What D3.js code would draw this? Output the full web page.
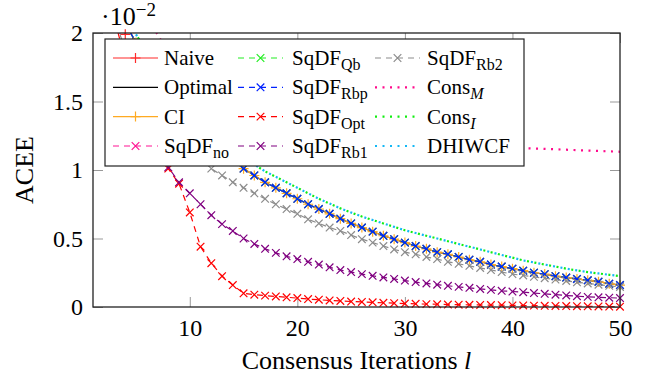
<!DOCTYPE html>
<html>
<head>
<meta charset="utf-8">
<script src="https://cdn.jsdelivr.net/npm/d3@7/dist/d3.min.js"></script>
<style>
body { margin: 0; background: #fff; }
svg { display: block; font-family: "Liberation Serif", "Times New Roman", serif; }
</style>
</head>
<body>
<svg id="chart" width="652" height="383"></svg>
<script>
// consensus iterations l = 1..50
var iters = d3.range(1, 51);

var xTicks = [10, 20, 30, 40, 50];
var yTicks = [0, 0.5, 1, 1.5, 2];
var yTickLabels = ["0", "0.5", "1", "1.5", "2"];

// values in units of 1e-2 (above 2 = off the plot)
var naive = [3.0, 2.5, 2.2, 1.99, 2.25, 2.6, 3.0, 3.4];

var optimal = [2.4, 2.28, 2.18, 2.07, 1.93, 1.8, 1.68, 1.57, 1.47, 1.37,
	1.28, 1.2, 1.13, 1.07, 1.01, 0.96, 0.91, 0.87, 0.83, 0.79,
	0.75, 0.715, 0.68, 0.645, 0.61, 0.58, 0.55, 0.52, 0.495, 0.47,
	0.445, 0.425, 0.40, 0.385, 0.365, 0.345, 0.33, 0.31, 0.295, 0.28,
	0.265, 0.25, 0.24, 0.225, 0.215, 0.205, 0.195, 0.185, 0.17, 0.16];

var ci = [2.4, 2.28, 2.18, 2.07, 1.93, 1.8, 1.68, 1.57, 1.47, 1.37,
	1.28, 1.2, 1.13, 1.07, 1.01, 0.96, 0.91, 0.87, 0.83, 0.79,
	0.75, 0.715, 0.68, 0.645, 0.61, 0.58, 0.55, 0.52, 0.495, 0.47,
	0.445, 0.425, 0.40, 0.385, 0.365, 0.345, 0.33, 0.31, 0.295, 0.28,
	0.265, 0.25, 0.24, 0.225, 0.215, 0.205, 0.195, 0.185, 0.17, 0.16];

var sqdfNo = [2.4, 2.28, 2.18, 2.07, 1.93, 1.8, 1.68, 1.57, 1.47, 1.37,
	1.28, 1.2, 1.13, 1.07, 1.01, 0.96, 0.91, 0.87, 0.83, 0.79,
	0.75, 0.715, 0.68, 0.645, 0.61, 0.58, 0.55, 0.52, 0.495, 0.47,
	0.445, 0.425, 0.40, 0.385, 0.365, 0.345, 0.33, 0.31, 0.295, 0.28,
	0.265, 0.25, 0.24, 0.225, 0.215, 0.205, 0.195, 0.185, 0.17, 0.16];

var sqdfQb = [2.4, 2.28, 2.18, 2.07, 1.93, 1.8, 1.68, 1.57, 1.47, 1.37,
	1.28, 1.2, 1.13, 1.07, 1.01, 0.96, 0.91, 0.87, 0.83, 0.79,
	0.75, 0.715, 0.68, 0.645, 0.61, 0.58, 0.55, 0.52, 0.495, 0.47,
	0.445, 0.425, 0.40, 0.385, 0.365, 0.345, 0.33, 0.31, 0.295, 0.28,
	0.265, 0.25, 0.24, 0.225, 0.215, 0.205, 0.195, 0.185, 0.17, 0.16];

var sqdfRbp = [2.4, 2.28, 2.18, 2.07, 1.93, 1.8, 1.68, 1.57, 1.47, 1.37,
	1.28, 1.2, 1.13, 1.07, 1.01, 0.96, 0.91, 0.87, 0.83, 0.79,
	0.75, 0.715, 0.68, 0.645, 0.61, 0.58, 0.55, 0.52, 0.495, 0.47,
	0.445, 0.425, 0.40, 0.385, 0.365, 0.345, 0.33, 0.31, 0.295, 0.28,
	0.265, 0.25, 0.24, 0.225, 0.215, 0.205, 0.195, 0.185, 0.17, 0.16];

var sqdfOpt = [2.7, 2.4, 2.1, 1.8, 1.52, 1.32, 1.15, 1.01, 0.9, 0.69,
	0.44, 0.32, 0.225, 0.16, 0.10, 0.09, 0.083, 0.077, 0.071, 0.065,
	0.058, 0.053, 0.048, 0.044, 0.04, 0.037, 0.034, 0.031, 0.028, 0.025,
	0.023, 0.021, 0.02, 0.018, 0.017, 0.016, 0.015, 0.014, 0.013, 0.012,
	0.011, 0.01, 0.009, 0.008, 0.007, 0.006, 0.005, 0.004, 0.003, 0.002];

var sqdfRb1 = [2.9, 2.5, 2.15, 1.85, 1.6, 1.39, 1.2, 1.02, 0.91, 0.83,
	0.75, 0.67, 0.605, 0.555, 0.50, 0.46, 0.425, 0.395, 0.37, 0.35,
	0.33, 0.31, 0.29, 0.27, 0.255, 0.24, 0.228, 0.216, 0.205, 0.193,
	0.182, 0.172, 0.163, 0.155, 0.147, 0.14, 0.132, 0.125, 0.118, 0.113,
	0.108, 0.102, 0.096, 0.09, 0.084, 0.079, 0.074, 0.071, 0.068, 0.065];

var sqdfRb2 = [2.6, 2.35, 2.1, 1.88, 1.73, 1.6, 1.48, 1.37, 1.27, 1.18,
	1.09, 1.01, 0.96, 0.91, 0.87, 0.83, 0.79, 0.75, 0.715, 0.68,
	0.64, 0.61, 0.58, 0.555, 0.525, 0.495, 0.47, 0.445, 0.42, 0.40,
	0.385, 0.365, 0.35, 0.33, 0.315, 0.30, 0.285, 0.27, 0.255, 0.24,
	0.23, 0.22, 0.21, 0.2, 0.19, 0.18, 0.172, 0.163, 0.155, 0.146];

var consM = [3.4, 3.0, 2.7, 2.45, 2.27, 2.12, 1.99, 1.85, 1.74, 1.65,
	1.58, 1.52, 1.47, 1.43, 1.39, 1.36, 1.33, 1.31, 1.29, 1.27,
	1.26, 1.25, 1.24, 1.23, 1.22, 1.215, 1.21, 1.205, 1.2, 1.195,
	1.19, 1.187, 1.184, 1.181, 1.178, 1.175, 1.172, 1.169, 1.166, 1.163,
	1.16, 1.157, 1.154, 1.151, 1.148, 1.145, 1.142, 1.139, 1.136, 1.133];

var consI = [2.6, 2.44, 2.28, 2.13, 1.99, 1.86, 1.74, 1.63, 1.53, 1.44,
	1.36, 1.28, 1.21, 1.15, 1.09, 1.04, 0.99, 0.95, 0.91, 0.87,
	0.83, 0.79, 0.755, 0.72, 0.69, 0.66, 0.635, 0.61, 0.585, 0.56,
	0.54, 0.52, 0.50, 0.48, 0.46, 0.44, 0.42, 0.40, 0.38, 0.36,
	0.34, 0.325, 0.31, 0.295, 0.28, 0.267, 0.255, 0.245, 0.235, 0.226];

var dhiwcf = [2.6, 2.44, 2.28, 2.13, 1.99, 1.86, 1.74, 1.63, 1.53, 1.44,
	1.36, 1.28, 1.21, 1.15, 1.09, 1.04, 0.99, 0.95, 0.91, 0.87,
	0.83, 0.79, 0.755, 0.72, 0.69, 0.66, 0.635, 0.61, 0.585, 0.56,
	0.54, 0.52, 0.50, 0.48, 0.46, 0.44, 0.42, 0.40, 0.38, 0.36,
	0.34, 0.325, 0.31, 0.295, 0.28, 0.267, 0.255, 0.245, 0.235, 0.226];

// drawing order; the legend runs down its 3 columns in this order
var series = [
	{label: [["Naive"]], values: naive, color: "#ff2a2a", dash: null, mark: "plus"},
	{label: [["Optimal"]], values: optimal, color: "#000000", dash: null, mark: null},
	{label: [["CI"]], values: ci, color: "#ffaa22", dash: null, mark: "plus"},
	{label: [["SqDF"], ["no", "sub"]], values: sqdfNo, color: "#ff1493", dash: "6,5", mark: "x"},
	{label: [["SqDF"], ["Qb", "sub"]], values: sqdfQb, color: "#22ee22", dash: "6,5", mark: "x"},
	{label: [["SqDF"], ["Rbp", "sub"]], values: sqdfRbp, color: "#0022ff", dash: "6,5", mark: "x"},
	{label: [["SqDF"], ["Opt", "sub"]], values: sqdfOpt, color: "#ff0000", dash: "6,5", mark: "x"},
	{label: [["SqDF"], ["Rb1", "sub"]], values: sqdfRb1, color: "#800080", dash: "6,5", mark: "x"},
	{label: [["SqDF"], ["Rb2", "sub"]], values: sqdfRb2, color: "#8c8c8c", dash: "6,5", mark: "x"},
	{label: [["Cons"], ["M", "isub"]], values: consM, color: "#ff0a8c", dash: "2,5.5", mark: null, dotted: true},
	{label: [["Cons"], ["I", "isub"]], values: consI, color: "#11ee11", dash: "2,5.5", mark: null, dotted: true},
	{label: [["DHIWCF"]], values: dhiwcf, color: "#14b8f5", dash: "2,5.5", mark: null, dotted: true, offset: 3.5}
];

var pLeft = 93, pRight = 620, pTop = 33, pBottom = 307;

var svg = d3.select("#chart");

var x = d3.scaleLinear().domain([1, 50]).range([pLeft, pRight]);
var y = d3.scaleLinear().domain([0, 2]).range([pBottom, pTop]);

svg.append("defs")
	.append("clipPath")
	.attr("id", "plotClip")
	.append("rect")
	.attr("x", pLeft)
	.attr("y", pTop)
	.attr("width", pRight - pLeft)
	.attr("height", pBottom - pTop);

// ticks (inward, grey)
function styleAxis(g) {
	g.select(".domain").remove();
	g.selectAll(".tick line").attr("stroke", "#999").attr("stroke-width", 1);
	g.selectAll(".tick text").attr("fill", "#000").attr("font-size", 24)
		.attr("font-family", "Liberation Serif, serif");
}

svg.append("g")
	.attr("transform", "translate(0," + pBottom + ")")
	.call(d3.axisBottom(x).tickValues(xTicks).tickSize(-10).tickPadding(12))
	.call(styleAxis);

svg.append("g")
	.attr("transform", "translate(0," + pTop + ")")
	.call(d3.axisTop(x).tickValues(xTicks).tickSize(-10).tickFormat(""))
	.call(styleAxis);

svg.append("g")
	.attr("transform", "translate(" + pLeft + ",0)")
	.call(d3.axisLeft(y).tickValues(yTicks).tickSize(-10).tickPadding(10)
		.tickFormat(function (d, i) { return yTickLabels[i]; }))
	.call(styleAxis);

svg.append("g")
	.attr("transform", "translate(" + pRight + ",0)")
	.call(d3.axisRight(y).tickValues(yTicks).tickSize(-10).tickFormat(""))
	.call(styleAxis);

// curves: each plot draws its line, then its marks
var line = d3.line()
	.defined(function (d) { return d != null; })
	.x(function (d, i) { return x(iters[i]); })
	.y(function (d) { return y(d); });

function markPath(kind, r) {
	if (kind === "plus") {
		return "M" + (-r) + ",0H" + r + "M0," + (-r) + "V" + r;
	}
	return "M" + (-r) + "," + (-r) + "L" + r + "," + r + "M" + (-r) + "," + r + "L" + r + "," + (-r);
}

var plots = svg.append("g");

series.forEach(function (s) {
	var g = plots.append("g");

	g.append("path")
		.attr("clip-path", "url(#plotClip)")
		.attr("d", line(s.values))
		.attr("fill", "none")
		.attr("stroke", s.color)
		.attr("stroke-width", s.dotted ? 2.2 : 1.2)
		.attr("stroke-dasharray", s.dash)
		.attr("stroke-dashoffset", s.offset || 0);

	if (!s.mark) return;
	g.selectAll(null)
		.data(s.values.map(function (v, i) { return {l: iters[i], v: v}; })
			.filter(function (d) { return d.v <= 2.02; }))
		.enter()
		.append("path")
		.attr("transform", function (d) { return "translate(" + x(d.l) + "," + y(d.v) + ")"; })
		.attr("d", markPath(s.mark, s.mark === "plus" ? 5 : 3.8))
		.attr("fill", "none")
		.attr("stroke", s.color)
		.attr("stroke-width", 1.2);
});

// frame
svg.append("rect")
	.attr("x", pLeft)
	.attr("y", pTop)
	.attr("width", pRight - pLeft)
	.attr("height", pBottom - pTop)
	.attr("fill", "none")
	.attr("stroke", "#222")
	.attr("stroke-width", 1.3);

// scale factor label
var sc = svg.append("text")
	.attr("x", 101)
	.attr("y", 25)
	.attr("font-size", 26);
sc.append("tspan").text("\u00b710");
sc.append("tspan").attr("font-size", 19).attr("dy", -9).text("\u22122");

// axis labels
var xl = svg.append("text")
	.attr("x", (pLeft + pRight) / 2)
	.attr("y", 369)
	.attr("text-anchor", "middle")
	.attr("font-size", 26);
xl.append("tspan").text("Consensus Iterations ");
xl.append("tspan").attr("font-style", "italic").text("l");

svg.append("text")
	.attr("transform", "translate(33," + ((pTop + pBottom) / 2) + ") rotate(-90)")
	.attr("text-anchor", "middle")
	.attr("font-size", 26)
	.text("ACEE");

// legend
var legX = 105, legY = 39, legW = 419, legH = 127;
var colSample = [113, 238, 375], colText = [164, 292, 427];
var rowY = [58, 87.3, 116.6, 146];

var legend = svg.append("g").attr("class", "legend");

legend.append("rect")
	.attr("x", legX)
	.attr("y", legY)
	.attr("width", legW)
	.attr("height", legH)
	.attr("fill", "#fff")
	.attr("stroke", "#222")
	.attr("stroke-width", 1.2);

var entry = legend.selectAll("g.entry")
	.data(series)
	.enter()
	.append("g")
	.attr("class", "entry")
	.attr("transform", function (d, i) {
		return "translate(0," + rowY[i % 4] + ")";
	});

entry.append("line")
	.attr("x1", function (d, i) { return colSample[Math.floor(i / 4)]; })
	.attr("x2", function (d, i) { return colSample[Math.floor(i / 4)] + 45; })
	.attr("y1", 0)
	.attr("y2", 0)
	.attr("stroke", function (d) { return d.color; })
	.attr("stroke-width", function (d) { return d.dotted ? 2.2 : 1.2; })
	.attr("stroke-dasharray", function (d) { return d.dash; });

entry.filter(function (d) { return d.mark; })
	.append("path")
	.attr("transform", function (d) { return "translate(" + (colSample[Math.floor(series.indexOf(d) / 4)] + 22.5) + ",0)"; })
	.attr("d", function (d) { return markPath(d.mark, d.mark === "plus" ? 5 : 3.8); })
	.attr("fill", "none")
	.attr("stroke", function (d) { return d.color; })
	.attr("stroke-width", 1.2);

entry.append("text")
	.attr("x", function (d, i) { return colText[Math.floor(i / 4)]; })
	.attr("y", 7)
	.attr("font-size", 21)
	.each(function (d) {
		var t = d3.select(this);
		d.label.forEach(function (p) {
			var ts = t.append("tspan").text(p[0]);
			if (p[1]) {
				ts.attr("font-size", 16).attr("dy", 5);
				if (p[1] === "isub") ts.attr("font-style", "italic");
			}
		});
	});
</script>
</body>
</html>
